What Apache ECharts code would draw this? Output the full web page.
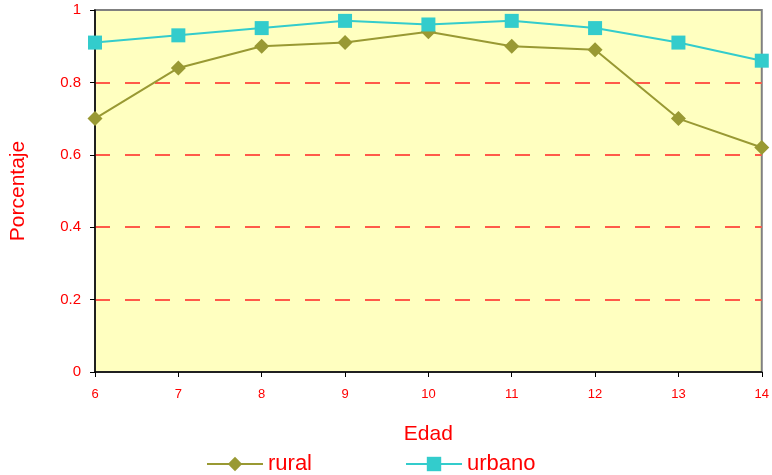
<!DOCTYPE html>
<html>
<head>
<meta charset="utf-8">
<script src="https://cdn.jsdelivr.net/npm/echarts@6/dist/echarts.min.js"></script>
<style>
  html, body { margin: 0; padding: 0; background: #ffffff; }
  #chart { width: 772px; height: 475px; }
</style>
</head>
<body>
<div id="chart"></div>
<script>
// Ages (x axis categories)
const ages = ['6', '7', '8', '9', '10', '11', '12', '13', '14'];
// Share per age group
const rural = [0.70, 0.84, 0.90, 0.91, 0.94, 0.90, 0.89, 0.70, 0.62];
const urbano = [0.91, 0.93, 0.95, 0.97, 0.96, 0.97, 0.95, 0.91, 0.86];
// Y axis ticks
const yTicks = [0, 0.2, 0.4, 0.6, 0.8, 1];

const FONT = '"Liberation Sans", Arial, sans-serif';
const RED = '#FF0000';

const chart = echarts.init(document.getElementById('chart'), null, { renderer: 'canvas' });
chart.setOption({
  animation: false,
  backgroundColor: '#ffffff',
  textStyle: { fontFamily: FONT },
  grid: {
    left: 95, right: 9, top: 10, bottom: 103,
    show: true,
    backgroundColor: '#FFFFC0',
    borderColor: '#808080',
    borderWidth: 2
  },
  legend: {
    top: 448,
    left: 201,
    itemGap: 93,
    itemWidth: 56,
    itemHeight: 18,
    textStyle: { color: RED, fontSize: 22, fontFamily: FONT },
    data: ['rural', 'urbano']
  },
  xAxis: {
    type: 'category',
    data: ages,
    boundaryGap: false,
    name: 'Edad',
    nameLocation: 'middle',
    nameGap: 52,
    nameTextStyle: { color: RED, fontSize: 21, fontFamily: FONT },
    axisLine: { show: true, lineStyle: { color: '#000000', width: 1.5 } },
    axisTick: { show: true, alignWithLabel: true, length: 5, lineStyle: { color: '#000000' } },
    axisLabel: { color: RED, fontSize: 13, margin: 16, fontFamily: FONT },
    splitLine: { show: false }
  },
  yAxis: {
    type: 'value',
    min: yTicks[0],
    max: yTicks[yTicks.length - 1],
    interval: 0.2,
    name: 'Porcentaje',
    nameLocation: 'middle',
    nameGap: 66,
    nameTextStyle: { color: RED, fontSize: 21, fontFamily: FONT },
    axisLine: { show: true, lineStyle: { color: '#000000', width: 1.5 } },
    axisTick: { show: true, length: 5, lineStyle: { color: '#000000' } },
    axisLabel: {
      color: RED, fontSize: 15, margin: 14, fontFamily: FONT,
      formatter: v => String(Math.round(v * 10) / 10)
    },
    splitLine: {
      show: true,
      showMinLine: false,
      showMaxLine: false,
      lineStyle: { color: '#FF5A4A', type: [15, 15], width: 2 }
    }
  },
  series: [
    {
      name: 'rural',
      type: 'line',
      data: rural,
      symbol: 'diamond',
      symbolSize: 15,
      itemStyle: { color: '#999933' },
      lineStyle: { color: '#999933', width: 2 },
      z: 3
    },
    {
      name: 'urbano',
      type: 'line',
      data: urbano,
      symbol: 'rect',
      symbolSize: 14,
      itemStyle: { color: '#33CCCC' },
      lineStyle: { color: '#33CCCC', width: 2 },
      z: 4
    }
  ]
});
</script>
</body>
</html>
